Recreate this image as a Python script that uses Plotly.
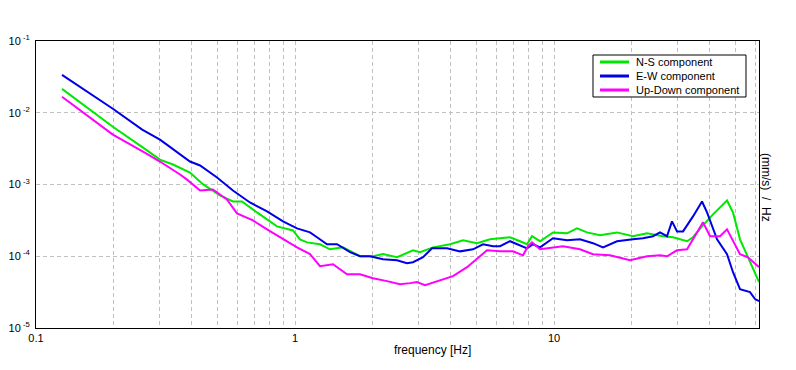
import plotly.graph_objects as go

# ---- data ----
ns_freq = [0.126, 0.198, 0.259, 0.301, 0.338, 0.393, 0.441, 0.513, 0.576, 0.624, 0.713, 0.852,
           0.982, 1.045, 1.113, 1.249, 1.365, 1.532, 1.782, 2.001, 2.187, 2.477, 2.855, 3.039,
           3.411, 3.968, 4.454, 5.044, 5.663, 6.765, 7.391, 7.867, 8.224, 8.831, 9.911, 11.23,
           12.27, 13.41, 15.05, 17.51, 20.18, 22.86, 26.36, 28.81, 32.63, 34.41, 37.28, 41.12,
           46.56, 49.11, 52.26, 57.12, 61.9]
ns_psd = [0.0215, 0.00639, 0.00326, 0.00222, 0.00190, 0.00147, 0.00101, 0.000704, 0.000580, 0.000580,
          0.000408, 0.000261, 0.000229, 0.000172, 0.000156, 0.000147, 0.000125, 0.000133, 0.000100,
          0.000100, 0.000107, 0.0000968, 0.000121, 0.000114, 0.000133, 0.000147, 0.000167, 0.000152,
          0.000172, 0.000184, 0.000162, 0.000147, 0.000190, 0.000162, 0.000215, 0.000209, 0.000245,
          0.000215, 0.000196, 0.000215, 0.000190, 0.000209, 0.000190, 0.000184, 0.000162, 0.000184,
          0.000261, 0.000383, 0.000599, 0.000408, 0.000172, 0.0000825, 0.0000436]

ew_freq = [0.126, 0.198, 0.257, 0.301, 0.320, 0.393, 0.430, 0.500, 0.576, 0.670, 0.780, 0.899,
           1.018, 1.143, 1.216, 1.329, 1.453, 1.631, 1.782, 1.948, 2.187, 2.477, 2.706, 2.855,
           3.121, 3.381, 3.863, 4.337, 4.867, 5.321, 5.816, 6.189, 6.765, 7.391, 7.867, 8.297,
           8.831, 9.911, 11.23, 12.60, 14.14, 15.46, 17.51, 20.18, 22.06, 24.12, 25.67, 27.31,
           28.55, 29.86, 31.49, 34.41, 37.28, 38.98, 42.61, 46.56, 49.11, 52.26, 57.12, 59.71, 61.9]
ew_psd = [0.0337, 0.01137, 0.00581, 0.00422, 0.00359, 0.00209, 0.00184, 0.00125, 0.000825, 0.000562,
          0.000422, 0.000306, 0.000245, 0.000215, 0.000184, 0.000147, 0.000147, 0.000114, 0.000100,
          0.000100, 0.0000909, 0.0000880, 0.0000799, 0.0000825, 0.0000968, 0.000129, 0.000129,
          0.000117, 0.000125, 0.000147, 0.000138, 0.000138, 0.000162, 0.000142, 0.000129, 0.000147,
          0.000133, 0.000178, 0.000167, 0.000172, 0.000152, 0.000133, 0.000162, 0.000172, 0.000178,
          0.000190, 0.000215, 0.000190, 0.000306, 0.000222, 0.000222, 0.000359, 0.000580, 0.000408,
          0.000172, 0.000107, 0.0000599, 0.0000348, 0.0000316, 0.0000253, 0.0000237]

ud_freq = [0.126, 0.198, 0.259, 0.301, 0.360, 0.383, 0.430, 0.482, 0.513, 0.546, 0.597, 0.688,
           0.780, 0.899, 1.018, 1.143, 1.249, 1.402, 1.588, 1.782, 2.001, 2.266, 2.543, 2.780,
           2.958, 3.177, 3.534, 4.074, 4.615, 5.181, 5.514, 6.189, 6.947, 7.592, 7.937, 8.224,
           8.831, 10.83, 12.60, 14.14, 16.45, 19.66, 22.86, 25.67, 27.31, 29.86, 32.63, 35.66,
           37.61, 40.04, 43.76, 46.56, 52.26, 56.10, 61.9]
ud_psd = [0.0167, 0.00495, 0.00287, 0.00209, 0.00138, 0.00117, 0.000825, 0.000852, 0.000726, 0.000619,
          0.000396, 0.000316, 0.000237, 0.000172, 0.000133, 0.000107, 0.0000726, 0.0000774, 0.0000562,
          0.0000562, 0.0000495, 0.0000450, 0.0000408, 0.0000422, 0.0000436, 0.0000396, 0.0000450,
          0.0000528, 0.0000704, 0.000100, 0.000121, 0.000117, 0.000117, 0.000103, 0.000138, 0.000156,
          0.000125, 0.000138, 0.000125, 0.000107, 0.000103, 0.0000880, 0.000100, 0.000103, 0.000100,
          0.000121, 0.000125, 0.000215, 0.000297, 0.000190, 0.000190, 0.000237, 0.000107, 0.0000968,
          0.0000704]

series_names = ["N-S component", "E-W component", "Up-Down component"]
series_colors = ["#00e800", "#0000e6", "#ff00ff"]

x_grid_vals = [0.1, 0.2, 0.3, 0.4, 0.5, 0.6, 0.7, 0.8, 0.9, 1, 2, 3, 4, 5, 6, 7, 8, 9,
               10, 20, 30, 40, 50, 60]
x_tick_labels = {0.1: "0.1", 1: "1", 10: "10"}
y_tick_vals = [1e-5, 1e-4, 1e-3, 1e-2, 1e-1]
y_tick_text = ["10<sup> -5</sup>", "10<sup> -4</sup>", "10<sup> -3</sup>", "10<sup> -2</sup>", "10<sup> -1</sup>"]

x_title = "frequency [Hz]"
y_title = "(mm/s)  /  Hz"

FONT = "Liberation Sans, Arial, sans-serif"

fig = go.Figure()
for fx, fy, name, col in zip([ns_freq, ew_freq, ud_freq], [ns_psd, ew_psd, ud_psd],
                             series_names, series_colors):
    fig.add_trace(go.Scatter(x=fx, y=fy, mode="lines", name=name, showlegend=False,
                             line=dict(color=col, width=2, shape="linear")))

fig.update_xaxes(
    type="log", range=[-1, 1.7915], automargin=False,
    tickvals=x_grid_vals,
    ticktext=[x_tick_labels.get(v, "") for v in x_grid_vals],
    ticks="", showgrid=True, gridcolor="#c0c0c0", gridwidth=1, griddash="4px,3px",
    showline=True, linecolor="black", linewidth=1, mirror=True,
    zeroline=False, tickfont=dict(family=FONT, size=11, color="black"),
)
fig.update_yaxes(
    type="log", range=[-5, -1], automargin=False,
    tickvals=y_tick_vals, ticktext=y_tick_text,
    ticks="", showgrid=True, gridcolor="#c0c0c0", gridwidth=1, griddash="4px,3px",
    showline=True, linecolor="black", linewidth=1, mirror=True, ticklabelstandoff=3,
    zeroline=False, tickfont=dict(family=FONT, size=11, color="black"),
)

# axis titles
fig.add_annotation(text=x_title, xref="paper", yref="paper", x=0.549, y=-0.108,
                   showarrow=False, font=dict(family=FONT, size=12, color="black"))
fig.add_annotation(text=y_title, textangle=90, xref="paper", yref="paper",
                   x=1.022, y=0.488, showarrow=False,
                   font=dict(family=FONT, size=12, color="black"))

# legend box (drawn)
fig.add_shape(type="rect", xref="paper", yref="paper", x0=0.7704, x1=0.982, y0=0.8049, y1=0.9512,
              line=dict(color="black", width=1), fillcolor="white", layer="above")
leg_rows = [0.9268, 0.878, 0.8293]
for yy, name, col in zip(leg_rows, series_names, series_colors):
    fig.add_shape(type="line", xref="paper", yref="paper", x0=0.7801, x1=0.8202, y0=yy, y1=yy,
                  line=dict(color=col, width=3), layer="above")
    fig.add_annotation(text=name, xref="paper", yref="paper", x=0.8271, y=yy,
                       xanchor="left", yanchor="middle", showarrow=False,
                       font=dict(family=FONT, size=11, color="black"))

fig.update_layout(
    width=788, height=362,
    margin=dict(l=28, r=37, t=33, b=42, autoexpand=False),
    paper_bgcolor="white", plot_bgcolor="white",
    font=dict(family=FONT, size=12, color="black"),
    showlegend=False,
)

fig.write_html("out.html")
